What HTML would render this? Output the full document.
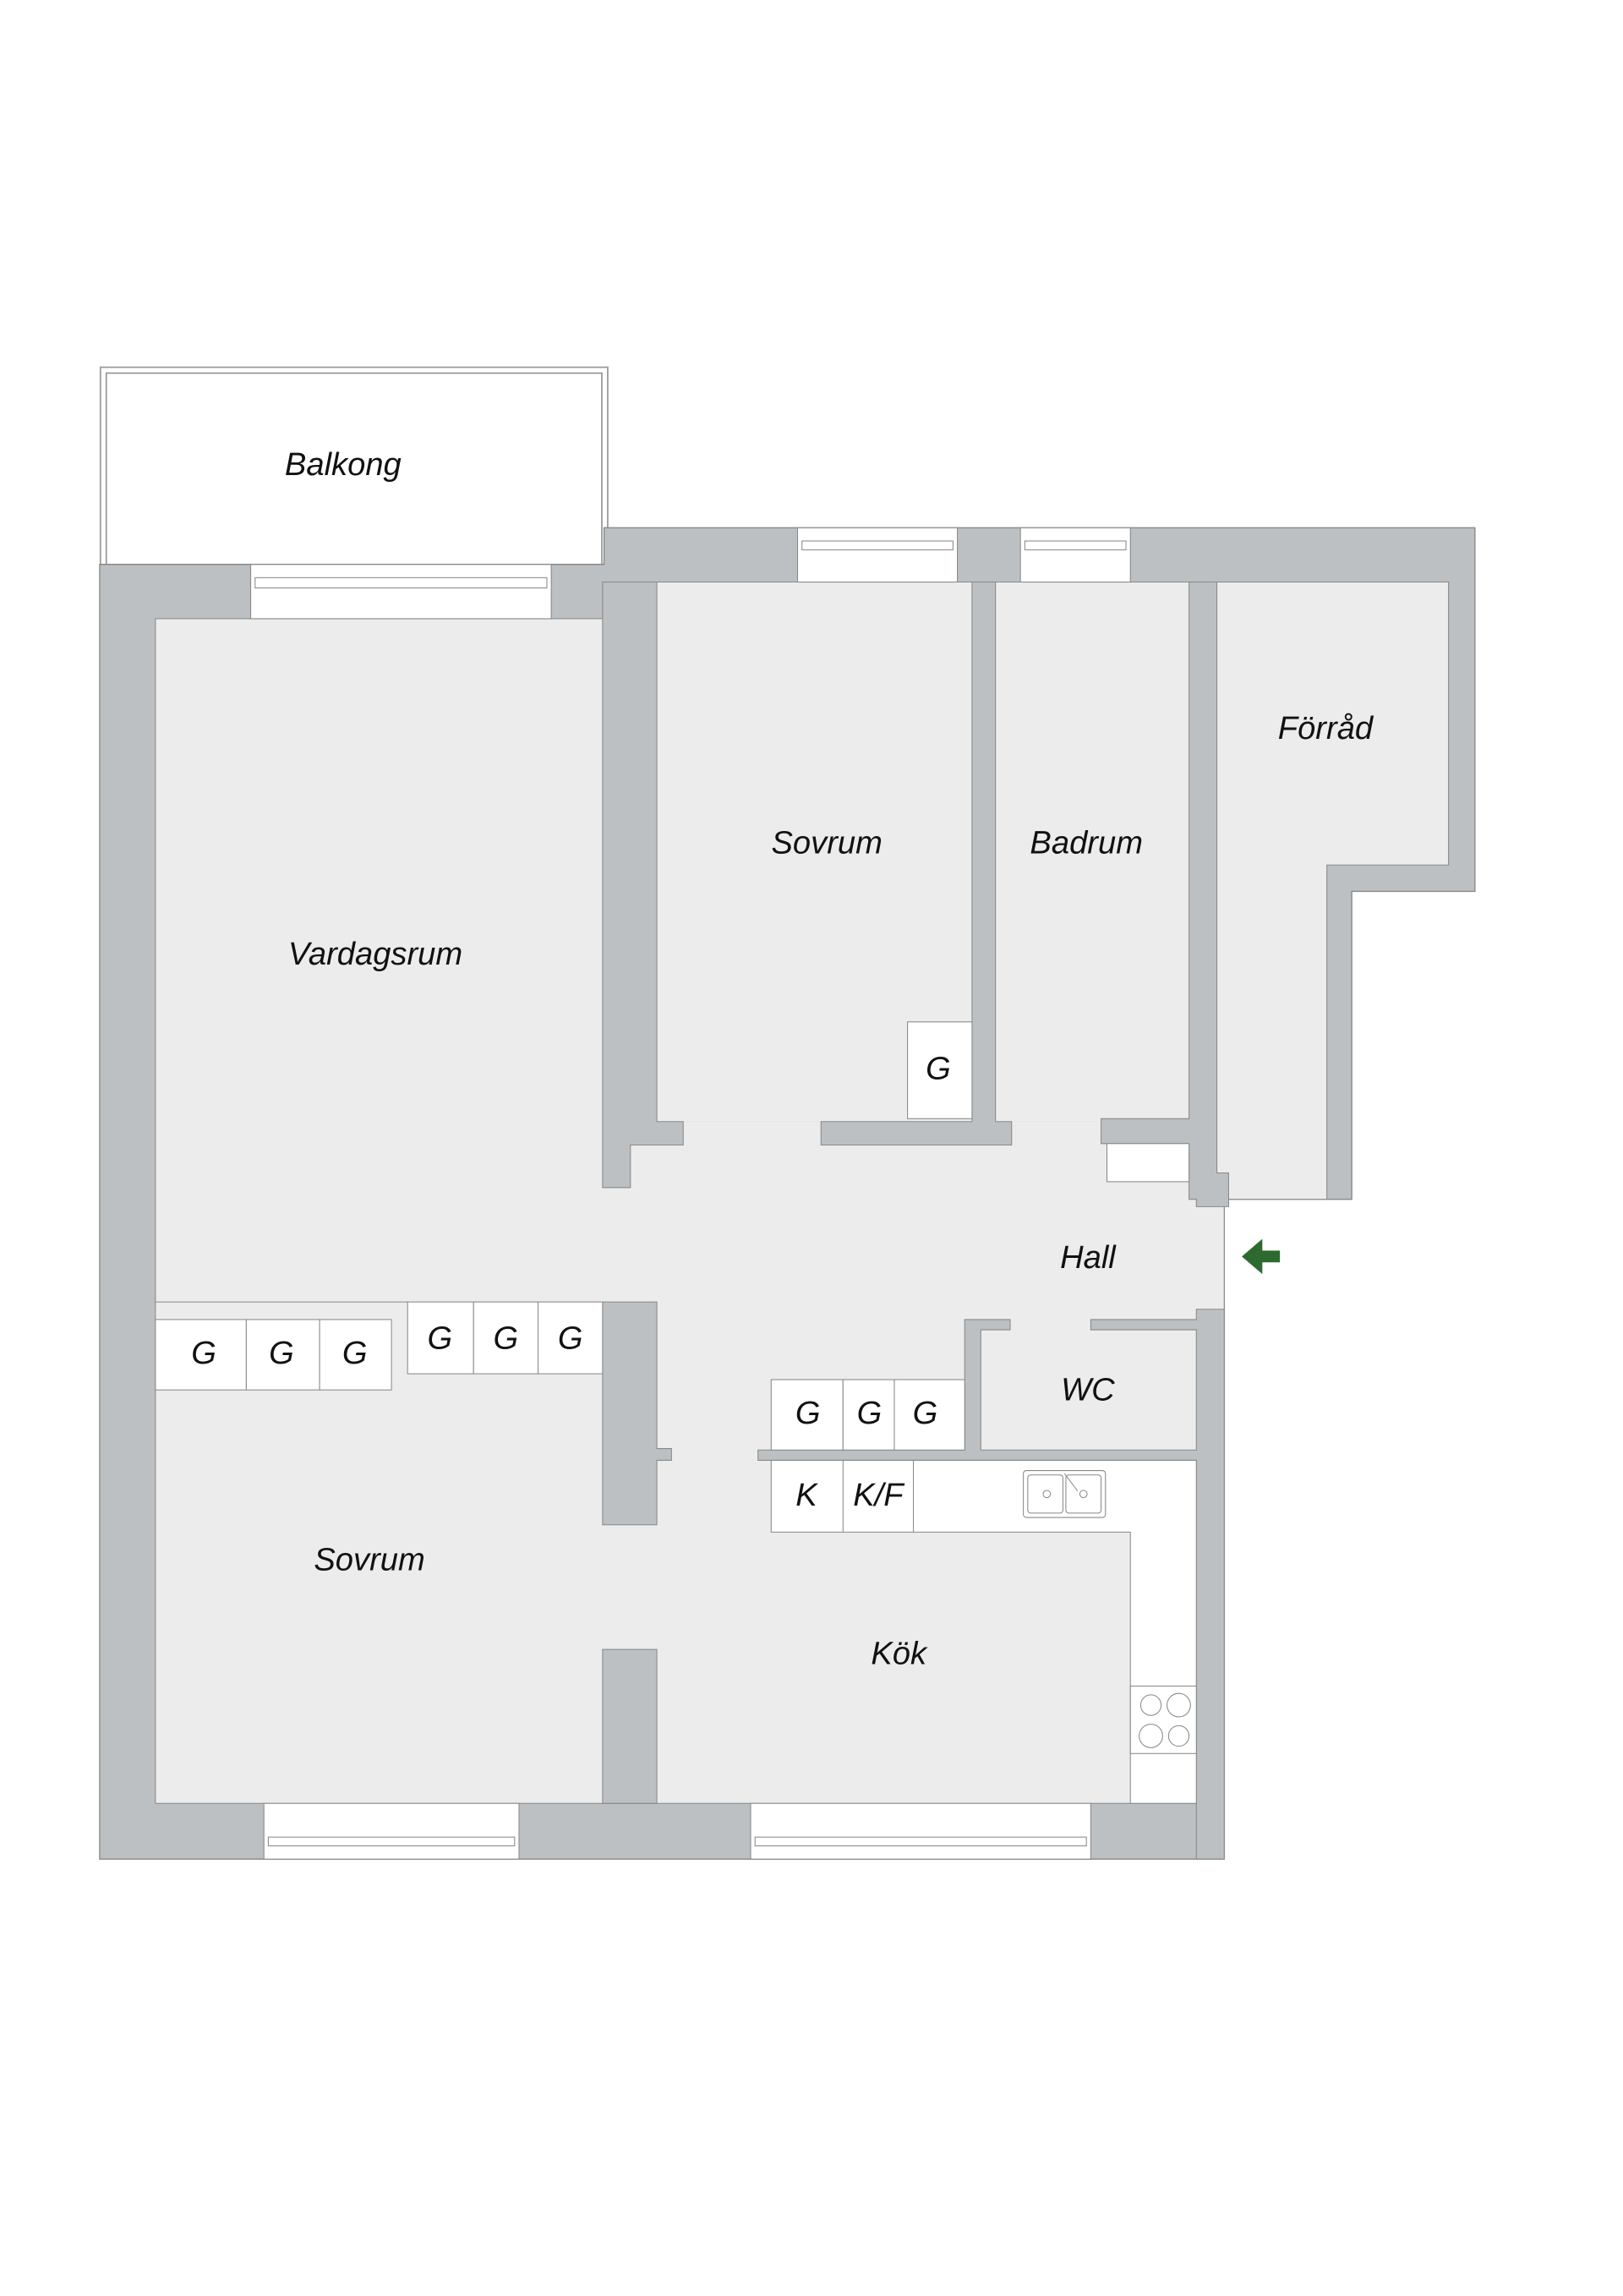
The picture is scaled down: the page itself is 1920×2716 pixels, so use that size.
<!DOCTYPE html>
<html><head><meta charset="utf-8"><style>
html,body{margin:0;padding:0;background:#fff;}
svg{display:block;}
text{font-family:"Liberation Sans",sans-serif;font-style:italic;fill:#111;}
</style></head><body>
<svg width="1920" height="2716" viewBox="0 0 1107 1566" preserveAspectRatio="none" xmlns="http://www.w3.org/2000/svg">
<rect x="0" y="0" width="1107" height="1566" fill="#fff"/>
<rect x="68.5" y="250.5" width="346" height="134.5" fill="#fff" stroke="#999" stroke-width="1"/>
<rect x="72.5" y="254.5" width="338" height="130.5" fill="#fff" stroke="#999" stroke-width="1"/>
<polygon points="68,385 412,385 412,360 1006,360 1006,608 922,608 922,818 835,818 835,1268 68,1268" fill="#bcc0c2" stroke="#888" stroke-width="0.8"/>
<g fill="#ececec" stroke="none">
<rect x="106" y="422" width="305" height="466"/>
<rect x="448" y="397" width="215" height="368"/>
<rect x="679" y="397" width="132" height="368"/>
<polygon points="830,397 988,397 988,590 905,590 905,818 830,818"/>
<rect x="106" y="765" width="710" height="465"/>
<rect x="800" y="823" width="35" height="70"/>
</g>
<g fill="none" stroke="#888" stroke-width="0.6">
<polyline points="106,1230 106,422 411,422"/>
<polyline points="448,397 663,397"/>
<polyline points="679,397 811,397"/>
<polyline points="830,397 988,397 988,590 905,590 905,818 830,818"/>
<line x1="106" y1="1230" x2="816" y2="1230"/>
<line x1="835" y1="823" x2="835" y2="893"/>
<line x1="106" y1="888" x2="278" y2="888"/>
</g>
<g fill="#bcc0c2" stroke="#888" stroke-width="0.6">
<polygon points="411,397 448,397 448,765 466,765 466,781 430,781 430,810 411,810"/>
<polygon points="663,397 679,397 679,765 690,765 690,781 560,781 560,765 663,765"/>
<polygon points="811,397 830,397 830,800 838,800 838,823 816,823 816,818 811,818 811,780 751,780 751,763 811,763"/>
<polygon points="411,888 448,888 448,988 458,988 458,996 448,996 448,1040 411,1040"/>
<rect x="411" y="1125" width="37" height="105"/>
<polygon points="658,900 689,900 689,907 669,907 669,989 816,989 816,907 744,907 744,900 816,900 816,893 835,893 835,1268 816,1268 816,996 517,996 517,989 658,989"/>
</g>
<g fill="#fff" stroke="#888" stroke-width="0.6">
<rect x="171" y="385" width="205" height="37"/>
<rect x="174" y="394" width="199" height="7"/>
<rect x="544" y="360" width="109" height="37"/>
<rect x="547" y="369" width="103" height="6"/>
<rect x="696" y="360" width="75" height="37"/>
<rect x="699" y="369" width="69" height="6"/>
<rect x="180" y="1230" width="174" height="38"/>
<rect x="183" y="1253" width="168" height="6"/>
<rect x="512" y="1230" width="232" height="38"/>
<rect x="515" y="1253" width="226" height="6"/>
</g>
<g fill="#fff" stroke="#888" stroke-width="0.6">
<rect x="619" y="697" width="44" height="66"/>
<rect x="755" y="780" width="56" height="26"/>
<rect x="106" y="900" width="62" height="48"/>
<rect x="168" y="900" width="50" height="48"/>
<rect x="218" y="900" width="49" height="48"/>
<rect x="278" y="888" width="45" height="49"/>
<rect x="323" y="888" width="44" height="49"/>
<rect x="367" y="888" width="44" height="49"/>
<rect x="526" y="941" width="49" height="48"/>
<rect x="575" y="941" width="35" height="48"/>
<rect x="610" y="941" width="48" height="48"/>
<polygon points="526,996 816,996 816,1230 771,1230 771,1045 526,1045"/>
<line x1="575" y1="996" x2="575" y2="1045"/>
<line x1="623" y1="996" x2="623" y2="1045"/>
<rect x="771" y="1150" width="45" height="46"/>
<rect x="698" y="1003" width="56" height="32" rx="2"/>
<rect x="701" y="1006" width="24" height="26" rx="2"/>
<rect x="727" y="1006" width="24" height="26" rx="2"/>
<circle cx="714" cy="1019" r="2.5"/><circle cx="739" cy="1019" r="2.5"/>
<line x1="726" y1="1005" x2="735" y2="1017"/>
<circle cx="785" cy="1163" r="7"/><circle cx="804" cy="1163" r="8"/>
<circle cx="785" cy="1184" r="8"/><circle cx="804" cy="1184" r="7"/>
</g>
<polygon points="847,857 861,845 861,853 873,853 873,861 861,861 861,869" fill="#2d6a30"/>
<g font-size="22" text-anchor="middle">
<text x="234" y="324">Balkong</text>
<text x="256" y="658">Vardagsrum</text>
<text x="564" y="582">Sovrum</text>
<text x="741" y="582">Badrum</text>
<text x="904" y="504">Förråd</text>
<text x="742" y="865">Hall</text>
<text x="742" y="955">WC</text>
<text x="252" y="1071">Sovrum</text>
<text x="613" y="1135">Kök</text>
<text x="640" y="736">G</text>
<text x="139" y="930">G</text>
<text x="192" y="930">G</text>
<text x="242" y="930">G</text>
<text x="300" y="920">G</text>
<text x="345" y="920">G</text>
<text x="389" y="920">G</text>
<text x="551" y="971">G</text>
<text x="593" y="971">G</text>
<text x="631" y="971">G</text>
<text x="550" y="1027">K</text>
<text x="599" y="1027">K/F</text>
</g>
</svg>
</body></html>
